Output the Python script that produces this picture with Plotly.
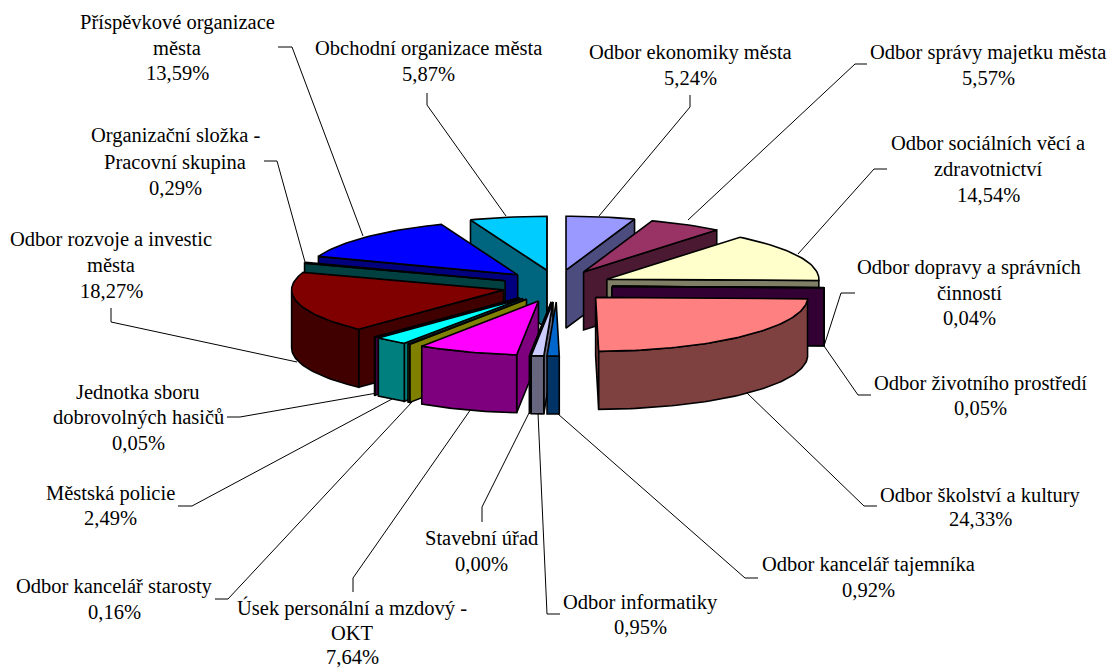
import math
import plotly.graph_objects as go

categories = ["Odbor ekonomiky města", "Odbor správy majetku města", "Odbor sociálních věcí a|zdravotnictví",
              "Odbor dopravy a správních|činností", "Odbor životního prostředí", "Odbor školství a kultury",
              "Odbor kancelář tajemníka", "Odbor informatiky", "Stavební úřad", "Úsek personální a mzdový -|OKT",
              "Odbor kancelář starosty", "Městská policie", "Jednotka sboru|dobrovolných hasičů",
              "Odbor rozvoje a investic|města", "Organizační složka -|Pracovní skupina",
              "Příspěvkové organizace|města", "Obchodní organizace města"]
values = [5.24, 5.57, 14.54, 0.04, 0.05, 24.33, 0.92, 0.95, 0.00, 7.64, 0.16, 2.49, 0.05, 18.27, 0.29, 13.59, 5.87]
colors = ["#9999FF", "#993366", "#FFFFCC", "#CCFFFF", "#660066", "#FF8080", "#0066CC", "#CCCCFF", "#000080",
          "#FF00FF", "#FFFF00", "#00FFFF", "#800080", "#800000", "#008080", "#0000FF", "#00CCFF"]

# label layout: centre x, y of each text line
label_x = [690, 988, 988, 969, 980, 980, 868, 640, 481, 352, 114, 110, 138, 111, 175, 177, 428]
label_y = [[52, 78], [52, 78], [143, 169, 195], [267, 293, 318], [383, 408], [495, 519], [564, 590], [602, 627],
           [538, 564], [608, 633, 657], [586, 612], [493, 518], [392, 417, 443], [239, 265, 291], [135, 162, 188],
           [22, 48, 73], [48, 74]]
leaders = [[(690, 95), (690, 107), (599, 216)], [(867, 64), (855, 64), (688, 220)],
           [(887, 169), (874, 169), (798, 254)], [(855, 293), (841, 293), (824, 346)],
           [(871, 395), (858, 395), (824, 346)], [(877, 506), (864, 506), (747, 393)],
           [(758, 578), (745, 578), (558, 414)], [(560, 614), (547, 614), (538, 413)],
           [(482, 522), (482, 507), (529, 413)], [(353, 592), (353, 578), (471, 409)],
           [(215, 599), (228, 599), (412, 402)], [(178, 506), (192, 506), (392, 399)],
           [(227, 417), (240, 417), (377, 393)], [(111, 308), (111, 322), (297, 362)],
           [(264, 161), (277, 161), (305, 262)], [(278, 47), (292, 47), (363, 236)],
           [(427, 93), (427, 105), (506, 216)]]

# pie geometry
CX, CY, RX, RY, DEPTH, EX, EY = 557, 286, 212, 54, 58, 55, 16
TOTAL = sum(values)


def darker(c):
    r, g, b = int(c[1:3], 16), int(c[3:5], 16), int(c[5:7], 16)
    return f"rgb({r//2},{g//2},{b//2})"


def polygon(fig, pts, color):
    fig.add_trace(go.Scatter(x=[p[0] for p in pts] + [pts[0][0]], y=[p[1] for p in pts] + [pts[0][1]],
                             mode="lines", fill="toself", fillcolor=color,
                             line=dict(color="black", width=1.6), hoverinfo="skip", showlegend=False))


fig = go.Figure()
slices = []
acc = 0.0
for v, c, name in zip(values, colors, categories):
    a = math.radians(acc / TOTAL * 360)
    acc += v
    b = math.radians(acc / TOTAL * 360)
    slices.append((a, b, c))

for a, b, c in sorted(slices, key=lambda s: -math.cos((s[0] + s[1]) / 2)):
    m = (a + b) / 2
    ax = CX + EX * math.sin(m)
    ay = CY - EY * math.cos(m)
    n = max(2, int((b - a) * 40))
    ang = [a + (b - a) * i / n for i in range(n + 1)]
    rim = lambda t: (ax + RX * math.sin(t), ay - RY * math.cos(t))
    dark = darker(c)
    # radial walls facing the viewer
    if math.sin(a) < 0:
        e = rim(a)
        polygon(fig, [(ax, ay), e, (e[0], e[1] + DEPTH), (ax, ay + DEPTH)], dark)
    if math.sin(b) > 0:
        e = rim(b)
        polygon(fig, [(ax, ay), e, (e[0], e[1] + DEPTH), (ax, ay + DEPTH)], dark)
    # outer curved wall, front half only
    front = [t for t in ang if math.cos(t) <= 0]
    if len(front) >= 2:
        top = [rim(t) for t in front]
        polygon(fig, top + [(p[0], p[1] + DEPTH) for p in reversed(top)], dark)
    # top face
    polygon(fig, [(ax, ay)] + [rim(t) for t in ang], c)

shapes = []
for pts in leaders:
    path = "M " + " L ".join(f"{x},{y}" for x, y in pts)
    shapes.append(dict(type="path", path=path, xref="x", yref="y", layer="below",
                       line=dict(color="black", width=1)))

annotations = []
for name, v, x, ys in zip(categories, values, label_x, label_y):
    lines = name.split("|") + [f"{v:.2f}%".replace(".", ",")]
    for t, y in zip(lines, ys):
        annotations.append(dict(x=x, y=y, xref="x", yref="y", text=t, showarrow=False, xanchor="center",
                                yanchor="middle", font=dict(family="Liberation Serif", size=20.5, color="black")))

fig.update_layout(width=1115, height=670, margin=dict(l=0, r=0, t=0, b=0), paper_bgcolor="white",
                  plot_bgcolor="white", showlegend=False, shapes=shapes, annotations=annotations,
                  xaxis=dict(range=[0, 1115], visible=False, fixedrange=True),
                  yaxis=dict(range=[670, 0], visible=False, fixedrange=True))
fig.write_html("out.html", post_script="document.body.style.margin='0';", config={"displayModeBar": False})
